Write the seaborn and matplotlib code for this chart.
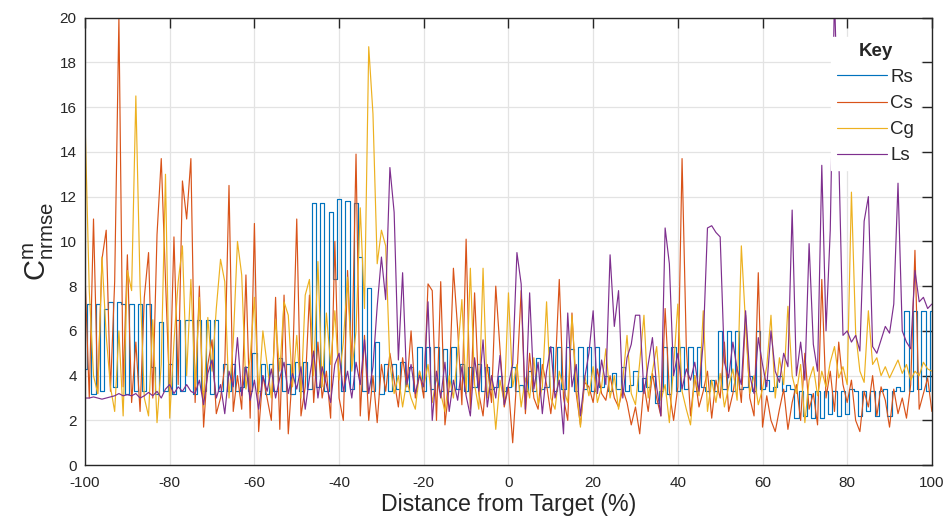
import numpy as np
import pandas as pd
import matplotlib
matplotlib.use("Agg")
import matplotlib.pyplot as plt
import seaborn as sns

# distance from target, one sample per percent
dist = np.arange(-100, 101)

rs = [4.3, 7.2, 3.2, 7.2, 3.3, 7.0, 7.3, 3.5, 7.3, 7.2,
      3.2, 7.2, 3.3, 7.2, 3.3, 7.2, 4.4, 3.2, 6.4, 3.3,
      4.5, 3.2, 6.5, 3.3, 6.5, 6.5, 3.2, 6.5, 3.3, 6.5,
      3.2, 6.5, 3.3, 4.5, 3.3, 4.5, 3.3, 3.5, 4.4, 3.3,
      5.0, 3.3, 4.5, 3.2, 4.5, 3.3, 4.8, 3.3, 4.5, 3.2,
      4.6, 3.3, 4.6, 3.4, 11.7, 3.5, 11.7, 3.3, 11.3, 8.3,
      11.9, 3.3, 11.8, 3.4, 11.7, 9.3, 3.3, 7.9, 3.3, 5.5,
      3.2, 4.5, 3.3, 4.5, 3.4, 4.6, 3.3, 4.4, 3.3, 5.3,
      3.3, 5.3, 3.4, 5.3, 3.3, 5.2, 3.3, 5.3, 3.4, 4.5,
      3.3, 4.4, 3.5, 4.5, 3.3, 4.4, 3.4, 3.5, 4.0, 3.3,
      3.5, 4.4, 3.3, 3.6, 3.3, 4.2, 3.3, 4.8, 3.4, 3.5,
      5.3, 3.3, 5.3, 3.4, 5.3, 5.2, 3.3, 5.3, 3.4, 5.3,
      3.3, 5.3, 3.5, 4.0, 3.3, 4.1, 3.4, 4.4, 3.3, 3.6,
      4.2, 3.3, 3.9, 3.5, 4.0, 2.8, 3.3, 5.3, 3.2, 5.3,
      3.3, 5.3, 3.4, 5.3, 3.3, 5.3, 3.5, 3.3, 3.8, 3.3,
      6.0, 3.4, 6.0, 3.3, 6.0, 3.4, 3.5, 4.0, 3.3, 6.0,
      3.4, 3.8, 3.3, 3.5, 4.0, 3.3, 3.6, 3.4, 2.1, 3.3,
      2.2, 3.2, 2.1, 3.3, 2.1, 3.3, 2.3, 3.3, 2.2, 3.3,
      2.3, 3.4, 3.3, 2.2, 3.3, 2.4, 3.3, 2.2, 3.3, 3.4,
      2.2, 3.3, 3.5, 3.3, 6.9, 3.3, 6.9, 3.4, 6.9, 3.3,
      6.9]

cs = [8.5, 3.0, 11.0, 3.2, 9.2, 10.5, 3.3, 8.2, 20.0, 3.5,
      9.4, 2.8, 5.5, 2.4, 7.5, 9.5, 3.0, 10.3, 13.7, 8.3,
      3.1, 10.2, 3.6, 12.7, 11.0, 13.7, 2.8, 8.0, 1.7, 4.5,
      5.6, 2.3, 3.0, 4.4, 12.5, 2.4, 4.0, 2.5, 8.5, 2.1,
      10.8, 1.5, 4.0, 3.0, 2.0, 7.5, 1.6, 7.6, 1.4, 4.2,
      11.0, 2.2, 3.5, 7.6, 2.8, 5.5, 3.0, 4.2, 2.1, 10.0,
      3.0, 2.0, 8.7, 4.5, 13.9, 2.2, 5.8, 2.0, 4.0, 1.9,
      4.5, 3.3, 5.0, 3.8, 2.6, 4.8, 3.5, 6.0, 3.0, 4.2,
      3.0, 8.1, 7.8, 2.0, 8.2, 1.8, 3.5, 8.8, 6.1, 2.7,
      10.1, 2.5, 7.7, 3.2, 2.2, 4.5, 2.8, 8.0, 5.2, 2.6,
      3.5, 1.0, 4.0, 7.8, 2.3, 5.0, 3.0, 2.5, 4.5, 3.6,
      2.3, 4.0, 8.3, 3.0, 2.0, 6.8, 3.2, 1.8, 3.7, 3.5,
      2.8, 4.3, 3.2, 2.9, 4.0, 3.0, 2.6, 3.4, 2.8, 1.8,
      2.6, 1.4, 3.6, 2.4, 4.1, 3.0, 2.2, 7.0, 3.3, 2.0,
      3.5, 13.7, 5.3, 2.2, 4.0, 2.6, 3.3, 4.2, 2.1, 3.8,
      3.0, 5.5, 2.4, 3.2, 4.4, 2.8, 6.7, 3.0, 2.2, 8.6,
      1.7, 3.1, 2.0, 1.5, 2.5, 3.4, 1.6, 2.8, 3.6, 2.0,
      5.0, 2.5, 3.2, 1.8, 8.3, 3.0, 4.2, 2.4, 5.5, 3.6,
      2.8, 3.8, 2.0, 1.5, 3.3, 2.6, 4.0, 2.2, 3.5, 2.9,
      1.7, 3.4, 2.3, 3.0, 2.1, 3.6, 9.6, 2.5, 3.2, 3.9,
      2.4]

cg = [15.4, 7.8, 4.0, 3.2, 9.3, 5.8, 3.5, 2.4, 6.0, 2.2,
      8.7, 7.8, 16.5, 8.0, 3.0, 2.2, 6.5, 1.9, 4.5, 13.0,
      2.1, 5.5, 8.2, 9.8, 4.0, 8.3, 3.5, 7.5, 2.6, 6.6,
      4.2, 7.0, 9.2, 8.2, 3.0, 5.5, 10.0, 8.5, 3.4, 4.8,
      7.5, 3.2, 6.0, 4.5, 3.0, 6.5, 4.2, 7.3, 6.7, 3.5,
      5.8, 3.0, 7.6, 8.3, 4.0, 9.1, 3.5, 6.8, 4.5, 6.9,
      3.8, 5.5, 8.4, 4.2, 6.0, 11.5, 7.0, 18.7, 15.7, 9.0,
      10.5, 9.8, 4.5, 3.2, 4.0, 2.6, 3.8, 3.0, 2.5, 4.2,
      3.5, 4.5, 2.8, 3.9, 3.2, 2.4, 4.0, 3.0, 5.0, 7.4,
      3.2, 8.8, 3.6, 2.5, 8.8, 3.0, 4.0, 1.6, 3.8, 2.8,
      7.7, 3.5, 4.5, 2.6, 3.9, 3.0, 4.8, 2.7, 3.5, 7.3,
      3.0, 2.5, 4.2, 3.4, 2.8, 6.7, 3.6, 1.7, 4.0, 3.1,
      4.4, 2.8, 3.5, 5.2, 3.0, 4.0, 2.5, 3.8, 5.8, 3.2,
      2.7, 4.6, 6.7, 3.0, 4.2, 5.3, 2.9, 3.6, 1.9, 4.4,
      7.2, 3.3, 2.5, 1.8, 4.0, 3.1, 6.9, 2.4, 3.8, 2.8,
      4.1, 2.6, 3.5, 4.3, 2.9, 9.8, 6.3, 3.2, 4.0, 2.7,
      3.4, 4.4, 6.7, 3.0, 4.8, 3.6, 7.1, 4.0, 3.2, 4.5,
      1.9, 3.8, 4.4, 3.1, 4.2, 3.5, 4.6, 5.3, 3.9, 4.4,
      3.6, 12.2, 5.9, 4.2, 3.7, 6.9, 4.5, 4.8, 4.0, 4.4,
      3.9, 4.3, 4.7, 4.1, 4.5, 3.8, 4.2, 4.0, 4.6, 4.3,
      4.2]

ls = [3.0, 3.0, 3.05, 3.0, 2.95, 3.0, 3.05, 3.1, 3.2, 3.1,
      3.15, 3.1, 3.2, 3.0, 3.1, 3.25, 3.1, 3.3, 3.0, 3.4,
      3.6, 3.2, 3.5, 3.3, 3.6, 3.3, 3.2, 3.8, 2.7, 4.1,
      4.7, 3.0, 3.6, 2.3, 4.2, 3.5, 5.7, 3.1, 4.4, 2.9,
      3.8, 2.5, 4.0, 3.3, 4.3, 3.0, 3.9, 4.6, 3.2, 4.1,
      3.4, 4.4, 2.5, 3.9, 5.1, 3.0, 4.4, 3.6, 2.8, 4.5,
      5.0, 3.3, 4.2, 3.0, 4.6, 3.6, 5.6, 3.2, 4.4, 7.1,
      9.3, 7.4, 13.3, 11.3, 4.7, 8.6, 3.6, 4.5, 3.2, 4.0,
      3.5, 7.3, 2.0, 4.2, 3.0, 4.6, 2.4, 3.8, 2.9, 4.4,
      3.1, 2.2, 4.8, 3.3, 5.6, 2.6, 4.0, 3.0, 4.9, 2.7,
      3.6, 4.5, 9.5, 8.1, 2.5, 7.7, 3.4, 4.6, 2.3, 4.2,
      5.3, 3.0, 3.8, 1.4, 6.8, 3.5, 4.5, 2.2, 3.9, 5.0,
      6.9, 3.2, 4.7, 3.6, 9.4, 6.2, 7.8, 3.0, 4.8, 5.4,
      6.7, 6.7, 3.2, 4.5, 5.7, 3.5, 2.2, 10.6, 9.0, 4.0,
      5.0, 3.4, 4.3, 3.8, 4.6, 3.3, 5.5, 10.6, 10.7, 10.4,
      10.2, 4.6, 3.9, 5.5, 4.3, 3.6, 6.9, 4.0, 3.2, 5.7,
      4.5, 3.5, 6.0, 4.2, 3.7, 5.0, 4.4, 11.4, 4.0, 5.5,
      3.8, 9.9, 5.4, 4.2, 13.4, 6.0, 10.5, 21.0, 13.9, 5.8,
      6.0, 5.5, 5.8, 5.1, 10.9, 12.0, 5.3, 5.0, 5.6, 6.2,
      5.9, 7.2, 12.6, 6.0, 5.5, 5.2, 8.7, 7.3, 7.5, 7.0,
      7.2]

names = ['Rs', 'Cs', 'Cg', 'Ls']
colors = ['#0072BD', '#D95319', '#EDB120', '#7E2F8E']

df = pd.DataFrame({'dist': dist, 'Rs': rs, 'Cs': cs, 'Cg': cg, 'Ls': ls})

sns.set_style('white')
plt.rcParams['font.family'] = ['Liberation Sans', 'DejaVu Sans']
plt.rcParams['mathtext.fontset'] = 'custom'
plt.rcParams['mathtext.rm'] = 'Liberation Sans'
plt.rcParams['axes.unicode_minus'] = False

fig, ax = plt.subplots(figsize=(9.48, 5.18), dpi=100)
fig.subplots_adjust(left=0.0897, right=0.983, top=0.966, bottom=0.102)

for name, col in zip(names, colors):
    style = 'steps-mid' if name == 'Rs' else 'default'
    sns.lineplot(data=df, x='dist', y=name, color=col, lw=0.85,
                 drawstyle=style, label=name, ax=ax)

ax.set_xlim(-100, 100)
ax.set_ylim(0, 20)
ax.set_xticks(np.arange(-100, 101, 20))
ax.set_yticks(np.arange(0, 21, 2))
ax.grid(True, color='#e3e3e3', lw=0.9)
ax.set_axisbelow(True)
ax.tick_params(direction='in', length=7, width=1, colors='#262626',
               labelsize=11, top=True, right=True)
ax.tick_params(axis='x', pad=8)
ax.tick_params(axis='y', pad=6)
for sp in ax.spines.values():
    sp.set_color('#262626')
    sp.set_linewidth(1.0)

ax.set_xlabel('Distance from Target (%)', fontsize=16.7, color='#262626', labelpad=2)
ax.set_ylabel(r'$\mathregular{C^{m}_{nrmse}}$', fontsize=21, color='#262626', labelpad=3)

leg = ax.legend(loc='upper right', bbox_to_anchor=(0.997, 0.977), title='Key',
                fontsize=13.5, title_fontproperties={'weight': 'bold', 'size': 13.5},
                frameon=True, facecolor='white', edgecolor='white', framealpha=1,
                handlelength=2.7, handletextpad=0.16, labelspacing=0.48,
                borderpad=0.3, fancybox=False)

fig.savefig('out.png', dpi=100)
